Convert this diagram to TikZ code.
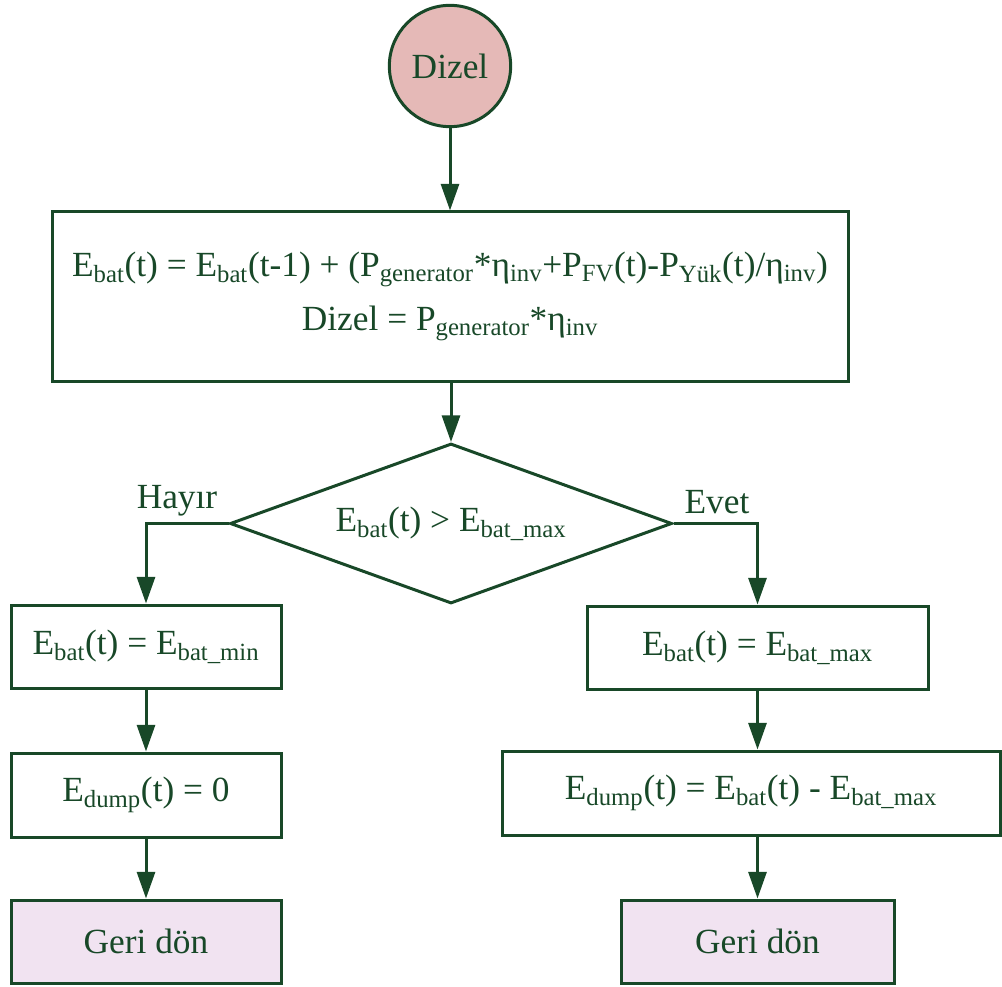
\documentclass[tikz,border=0pt]{standalone}
\usepackage{fontspec}
\setmainfont{Liberation Serif}
\usetikzlibrary{shapes.geometric,arrows.meta}
\definecolor{dg}{RGB}{24,72,40}
\definecolor{pinkfill}{RGB}{229,185,183}
\definecolor{lavfill}{RGB}{241,227,241}
\newcommand{\sbs}[1]{\textsubscript{#1}}
\begin{document}
\begin{tikzpicture}[x=0.75pt,y=-0.75pt,
  every node/.style={text=dg, font=\fontsize{26.5}{41}\selectfont},
  line/.style={draw=dg, line width=2.25pt},
  proc/.style={line, rectangle, inner sep=0pt, align=center},
  endbox/.style={proc, fill=lavfill},
  arr/.style={line, -{Triangle[length=20pt,width=13.5pt]}}]
\useasboundingbox (0,0) rectangle (1002,987);
\node[line, circle, fill=pinkfill, minimum size=91pt, inner sep=0pt] (dizel) at (450,66) {Dizel};
\node[proc, minimum width=597pt, minimum height=126.75pt] (main) at (450,296.5)
  {E\sbs{bat}(t) = E\sbs{bat}(t-1) + (P\sbs{generator}*η\sbs{inv}+P\sbs{FV}(t)-P\sbs{Yük}(t)/η\sbs{inv})\\
   Dizel = P\sbs{generator}*η\sbs{inv}};
\node[line, diamond, aspect=2.76, minimum width=331.5pt, minimum height=120pt, inner sep=0pt] (dia) at (451,523.5)
  {E\sbs{bat}(t) > E\sbs{bat\_max}};
\node[proc, minimum width=202.5pt, minimum height=62.25pt] (L1) at (146,646.5) {E\sbs{bat}(t) = E\sbs{bat\_min}};
\node[proc, minimum width=202.5pt, minimum height=63pt] (L2) at (146,795) {E\sbs{dump}(t) = 0};
\node[endbox, minimum width=202.5pt, minimum height=62.25pt] (L3) at (146,941.5) {Geri dön};
\node[proc, minimum width=255.75pt, minimum height=62.25pt] (R1) at (757.5,647.5) {E\sbs{bat}(t) = E\sbs{bat\_max}};
\node[proc, minimum width=373.5pt, minimum height=63pt] (R2) at (751,793) {E\sbs{dump}(t) = E\sbs{bat}(t) - E\sbs{bat\_max}};
\node[endbox, minimum width=204.75pt, minimum height=62.25pt] (R3) at (757.5,941.5) {Geri dön};
\node[anchor=base] (hayir) at (177,508) {Hayır};
\node[anchor=base] (evet) at (717,513) {Evet};
\draw[arr] (dizel) -- (main);
\draw[arr] (main.south -| dia.north) -- (dia.north);
\draw[arr] (dia.west) -| (L1.north);
\draw[arr] (L1) -- (L2);
\draw[arr] (L2) -- (L3);
\draw[arr] (dia.east) -| (R1.north);
\draw[arr] (R1.south) -- (R1.south |- R2.north);
\draw[arr] (R2.south -| R3.north) -- (R3.north);
\end{tikzpicture}
\end{document}
